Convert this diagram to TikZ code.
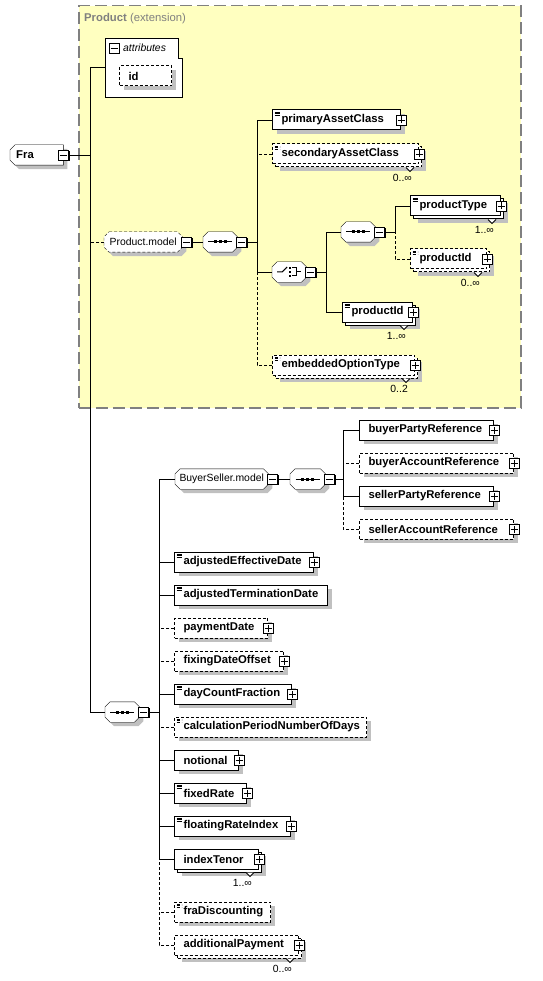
\documentclass[tikz,border=0pt]{standalone}
\usepackage{fontspec}
\setmainfont{Liberation Sans}
\usetikzlibrary{positioning,shadows}

\definecolor{extfill}{HTML}{FFFFC0}
\definecolor{extline}{HTML}{808080}
\definecolor{shade}{HTML}{C0C0C0}

\newcommand{\elemfont}{\fontsize{11.3}{13}\selectfont\bfseries}
\newcommand{\grpfont}{\fontsize{10.4}{12}\selectfont}

% outline of a compositor box, from the node's corners
\newcommand{\octof}[1]{([xshift=5pt]#1.north west) -- ([xshift=-5pt]#1.north east)
  -- ([yshift=-5pt]#1.north east) -- ([yshift=5pt]#1.south east) -- ([xshift=-5pt]#1.south east)
  -- ([xshift=5pt]#1.south west) -- ([yshift=5pt]#1.south west) -- ([yshift=-5pt]#1.north west) -- cycle}
\newcommand{\fraof}[1]{([xshift=5pt]#1.north west) -- (#1.north east) -- (#1.south east)
  -- ([xshift=5pt]#1.south west) -- ([yshift=5pt]#1.south west) -- ([yshift=-5pt]#1.north west) -- cycle}

\pgfdeclarelayer{back}
\pgfdeclarelayer{under}
\pgfsetlayers{back,under,main}

\tikzset{
  box/.style={draw, fill=white, anchor=west, line width=1pt, minimum height=20pt,
    inner xsep=9pt, inner ysep=0pt, align=left, font=\elemfont},
  elem/.style={box, drop shadow={shadow xshift=4pt, shadow yshift=-4pt, fill=shade, opacity=1}},
  elems/.style={box, drop shadow={shadow xshift=7pt, shadow yshift=-7pt, fill=shade, opacity=1},
    copy shadow={shadow xshift=3pt, shadow yshift=-3pt}},
  opt/.style={dash pattern=on 3pt off 2pt},
  doc/.style={path picture={
    \foreach \d in {2,3.8,5.6}
      \draw[black, line width=.7pt] ([shift={(2,\d)}]path picture bounding box.north west) -- ++(5,0);}},
  plus/.style={draw, fill=white, line width=.8pt, minimum size=10pt, inner sep=0pt,
    drop shadow={shadow xshift=1.2pt, shadow yshift=-1.2pt, fill=black, opacity=1},
    path picture={
      \draw[black, line width=.8pt] ([xshift=-3.5pt]path picture bounding box.center) -- ([xshift=3.5pt]path picture bounding box.center);
      \draw[black, line width=.8pt] ([yshift=-3.5pt]path picture bounding box.center) -- ([yshift=3.5pt]path picture bounding box.center);}},
  minus/.style={draw, fill=white, line width=.8pt, minimum size=10pt, inner sep=0pt,
    drop shadow={shadow xshift=1.2pt, shadow yshift=-1.2pt, fill=black, opacity=1},
    path picture={
      \draw[black, line width=.8pt] ([xshift=-3.5pt]path picture bounding box.center) -- ([xshift=3.5pt]path picture bounding box.center);}},
  grp/.style={rectangle, anchor=west, minimum height=20pt, inner sep=0pt, font=\grpfont},
  grpshadow/.style={fill=shade, transform canvas={shift={(4pt,-4pt)}}},
  seqsym/.style={minimum width=34pt, path picture={
    \draw[black, line width=1pt] ([xshift=-12pt]path picture bounding box.center) -- ([xshift=12pt]path picture bounding box.center);
    \foreach \dx in {-5,0,5}
      \fill[black] ([shift={({\dx-1.5},-1.5)}]path picture bounding box.center) rectangle ++(3,3);}},
  choicesym/.style={minimum width=34pt, path picture={
    \draw[black, line width=1pt] (path picture bounding box.center) ++(-12,0) -- ++(5,0) -- ++(5,-5);
    \foreach \dy in {-4,0,4}
      \fill[black] ([shift={(-0.5,{\dy-1.2})}]path picture bounding box.center) rectangle ++(2.6,2.4);
    \draw[black, line width=1pt] (path picture bounding box.center) ++(3,-4) -- ++(4,0) -- ++(0,8) -- ++(-4,0);
    \draw[black, line width=1pt] (path picture bounding box.center) ++(7,0) -- ++(5,0);}},
  card/.style={font=\grpfont, inner sep=0pt, anchor=east}
}

\begin{document}
\begin{tikzpicture}[x=1pt, y=-1pt, line width=1pt]
  \useasboundingbox (0,0) rectangle (542,981);

  % extension region
  \begin{pgfonlayer}{back}
    \node[draw=extline, fill=extfill, line width=1.5pt, dash pattern=on 12pt off 5pt,
      minimum width=442pt, minimum height=402pt, anchor=north west, inner sep=0pt] (ext) at (78,5) {};
  \end{pgfonlayer}
  \node[anchor=west, inner sep=0pt, text=extline, font=\elemfont] (ext-t) at (84,19)
    {Product \mdseries(extension)};

  % root element and attributes
  \node[grp, font=\elemfont, text width=41pt, align=left, inner xsep=6pt] (fra) at (10,155) {Fra};
  \node[minus] (fra-m) at (fra.east) {};

  \node[minimum width=77pt, minimum height=59pt, anchor=north west, inner sep=0pt] (attr) at (105,38) {};
  \draw[fill=white] (attr.north west) -- ++(73,0) -- ++(0,20) -- ++(4,0) |- (attr.south west) -- cycle;
  \node[minus] (attr-m) at (114,48) {};
  \node[anchor=west, inner sep=0pt, font=\grpfont\itshape] (attr-t) at (123,48) {attributes};
  \node[elem, opt, text width=34pt] (id) at (119,76) {id};

  % Product.model
  \node[grp, minimum width=78pt] (pmodel) at (104,242) {Product.model};
  \node[minus, anchor=west] (pmodel-m) at ([xshift=-1pt]pmodel.east) {};
  \node[grp, seqsym] (pseq) at (203,242) {};
  \node[minus, anchor=west] (pseq-m) at ([xshift=-1pt]pseq.east) {};

  \node[elem, doc, text width=110pt] (primary) at (272,120) {primaryAssetClass};
  \node[elems, doc, opt, text width=128pt] (secondary) at (272,154) {secondaryAssetClass};
  \node[grp, choicesym] (pchoice) at (272,272) {};
  \node[minus, anchor=west] (pchoice-m) at ([xshift=-1pt]pchoice.east) {};
  \node[elems, doc, opt, text width=124pt] (embedded) at (272,365) {embeddedOptionType};

  \node[grp, seqsym] (iseq) at (341,232) {};
  \node[minus, anchor=west] (iseq-m) at ([xshift=-1pt]iseq.east) {};
  \node[elems, doc, text width=52pt] (pid2) at (342,312) {productId};
  \node[elems, doc, text width=72pt] (ptype) at (410,206) {productType};
  \node[elems, doc, opt, text width=58pt] (pid1) at (410,259) {productId};

  % main sequence
  \node[grp, seqsym] (mseq) at (105,712) {};
  \node[minus, anchor=west] (mseq-m) at ([xshift=-1pt]mseq.east) {};

  \node[grp, minimum width=93pt] (bs) at (175,479) {BuyerSeller.model};
  \node[minus, anchor=west] (bs-m) at ([xshift=-1pt]bs.east) {};
  \node[grp, seqsym, minimum width=35pt] (bsseq) at (290,479) {};
  \node[minus, anchor=west] (bsseq-m) at ([xshift=-1pt]bsseq.east) {};

  \node[elem, text width=116pt] (byparty) at (359,430) {buyerPartyReference};
  \node[elem, opt, text width=136pt] (byacct) at (359,463) {buyerAccountReference};
  \node[elem, text width=116pt] (slparty) at (359,496) {sellerPartyReference};
  \node[elem, opt, text width=136pt] (slacct) at (359,529) {sellerAccountReference};

  \node[elem, doc, text width=121pt] (adjeff) at (174,562) {adjustedEffectiveDate};
  \node[elem, doc, text width=135pt] (adjterm) at (174,595) {adjustedTerminationDate};
  \node[elem, opt, text width=75pt] (payment) at (174,628) {paymentDate};
  \node[elem, opt, text width=91pt] (fixing) at (174,661) {fixingDateOffset};
  \node[elem, doc, text width=99pt] (daycount) at (174,694) {dayCountFraction};
  \node[elem, doc, opt, text width=174pt] (calc) at (174,727) {calculationPeriodNumberOfDays};
  \node[elem, text width=46pt] (notional) at (174,760) {notional};
  \node[elem, doc, text width=54pt] (fixed) at (174,793) {fixedRate};
  \node[elem, doc, text width=98pt] (floating) at (174,826) {floatingRateIndex};
  \node[elems, text width=66pt] (tenor) at (174,859) {indexTenor};
  \node[elem, doc, opt, text width=78pt] (fradisc) at (174,912) {fraDiscounting};
  \node[elems, opt, text width=106pt] (addpay) at (174,945) {additionalPayment};

  % compositor outlines behind their nodes
  \begin{pgfonlayer}{under}
    \foreach \n/\s in {pmodel/opt,pseq/solid,pchoice/solid,iseq/solid,mseq/solid,bs/solid,bsseq/solid} {
      \fill[grpshadow] \octof{\n};
      \draw[fill=white, \s] \octof{\n};
    }
    \fill[grpshadow] \fraof{fra};
    \draw[fill=white] \fraof{fra};
  \end{pgfonlayer}

  % expand boxes
  \foreach \n in {primary,secondary,embedded,pid2,ptype,pid1,byparty,byacct,slparty,slacct,
      adjeff,payment,fixing,daycount,notional,fixed,floating,tenor,addpay}
    \node[plus] (\n-p) at (\n.east) {};

  % occurrence marks
  \foreach \n in {secondary,embedded,pid2,ptype,pid1,tenor,addpay}
    \draw[fill=white, line width=.8pt] ([shift={(-13,3)}]\n.south east) -- ++(4,4) -- ++(4,-4);
  \node[card] (secondary-c) at ([shift={(-7,13)}]secondary.south east) {0..∞};
  \node[card] (ptype-c) at ([shift={(-7,13)}]ptype.south east) {1..∞};
  \node[card] (pid1-c) at ([shift={(-7,13)}]pid1.south east) {0..∞};
  \node[card] (pid2-c) at ([shift={(-7,13)}]pid2.south east) {1..∞};
  \node[card] (embedded-c) at ([shift={(-7,13)}]embedded.south east) {0..2};
  \node[card] (tenor-c) at ([shift={(-7,13)}]tenor.south east) {1..∞};
  \node[card] (addpay-c) at ([shift={(-7,13)}]addpay.south east) {0..∞};

  % connectors
  \coordinate (fork) at (90,155);
  \draw (fra-m) -- (fork);
  \draw (attr.west) -| (fork);
  \draw[opt] (pmodel.west) -- (pmodel.west -| fork);
  \draw (mseq.west) -| (fork);

  \draw (pmodel-m) -- (pseq);
  \coordinate (pbar) at (257,242);
  \draw (pseq-m) -- (pbar);
  \draw (primary.west) -| (pbar);
  \draw (pchoice.west) -| (pbar);
  \draw[opt] (secondary.west) -- (secondary.west -| pbar);
  \draw[opt] (embedded.west) -| (pchoice.west -| pbar);

  \coordinate (cbar) at (326,272);
  \draw (pchoice-m) -- (cbar);
  \draw (iseq.west) -| (cbar);
  \draw (pid2.west) -| (cbar);

  \coordinate (ibar) at (395,232);
  \draw (iseq-m) -- (ibar);
  \draw (ptype.west) -| (ibar);
  \draw[opt] (pid1.west) -| (ibar);

  \coordinate (mbar) at (159,712);
  \draw (mseq-m) -- (mbar);
  \draw (bs.west) -| (mbar);
  \draw (tenor.west) -| (mbar);
  \foreach \n in {adjeff,adjterm,daycount,notional,fixed,floating}
    \draw (\n.west) -- (\n.west -| mbar);
  \foreach \n in {payment,fixing,calc,fradisc}
    \draw[opt] (\n.west) -- (\n.west -| mbar);
  \draw[opt] (addpay.west) -| (tenor.west -| mbar);

  \draw (bs-m) -- (bsseq);
  \coordinate (bsbar) at (343,479);
  \draw (bsseq-m) -- (bsbar);
  \draw (byparty.west) -| (bsbar);
  \draw (slparty.west) -| (bsbar);
  \draw[opt] (byacct.west) -- (byacct.west -| bsbar);
  \draw[opt] (slacct.west) -| (slparty.west -| bsbar);
\end{tikzpicture}
\end{document}
